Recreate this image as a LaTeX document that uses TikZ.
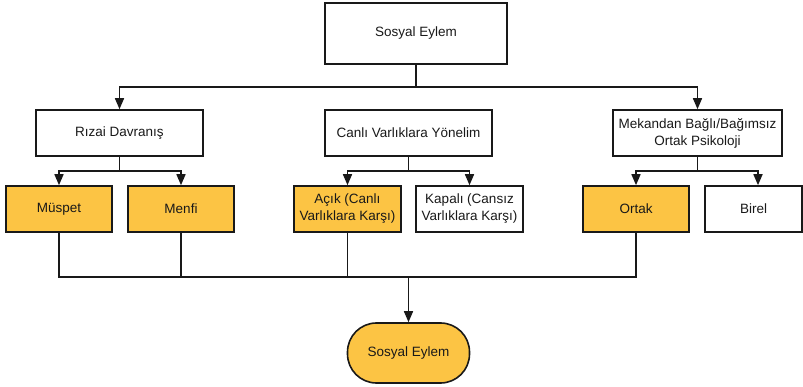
\documentclass[tikz,border=0pt]{standalone}
\usepackage{fontspec}
\setmainfont{Liberation Sans}
\usetikzlibrary{arrows.meta,calc}
\definecolor{boxfill}{RGB}{252,196,68}
\definecolor{ink}{RGB}{25,25,25}
\begin{document}
\begin{tikzpicture}[x=1pt,y=-1pt,
  every node/.style={font=\fontsize{13.5}{17}\selectfont, text=ink, align=center},
  box/.style={draw=ink, line width=1.6pt, rectangle, minimum height=46pt, inner sep=0pt},
  yel/.style={box, fill=boxfill},
  wht/.style={box, fill=white},
  link/.style={draw=ink, line width=1.6pt},
  arr/.style={link, -{Triangle[length=11pt,width=9pt]}}]
\useasboundingbox (0,0) rectangle (803,387);
% nodes
\node[wht, minimum width=182pt, minimum height=61pt] (top) at (416,33.5) {Sosyal Eylem};
\node[wht, minimum width=167pt] (rizai) at (119.5,133) {Rızai Davranış};
\node[wht, minimum width=167pt] (canli) at (408.5,133) {Canlı Varlıklara Yönelim};
\node[wht, minimum width=169pt] (mekan) at (697.5,133) {Mekandan Bağlı/Bağımsız\\Ortak Psikoloji};
\node[yel, minimum width=106pt] (muspet) at (59,209) {Müspet};
\node[yel, minimum width=106pt] (menfi) at (181,209) {Menfi};
\node[yel, minimum width=107pt] (acik) at (347.5,209) {Açık (Canlı\\Varlıklara Karşı)};
\node[wht, minimum width=107pt] (kapali) at (469.5,209) {Kapalı (Cansız\\Varlıklara Karşı)};
\node[yel, minimum width=106pt] (ortak) at (636,209) {Ortak};
\node[wht, minimum width=97pt] (birel) at (753.5,209) {Birel};
\node[yel, minimum width=122pt, minimum height=60pt, rounded corners=29pt] (final) at (408.5,353) {Sosyal Eylem};
% junctions
\coordinate (j1) at (416,87);
\coordinate (j2) at (119.5,171);
\coordinate (j3) at (408.5,171);
\coordinate (j4) at (697.5,171);
\coordinate (j5) at (408.5,277);
\coordinate (birelin) at ($(birel.north)+(4.5,0)$);
% connectors
\draw[link] (top.south) -- (j1);
\draw[arr] (j1) -| (rizai.north);
\draw[arr] (j1) -| (mekan.north);
\draw[link] (rizai.south) -- (j2);
\draw[arr] (j2) -| (muspet.north);
\draw[arr] (j2) -| (menfi.north);
\draw[link] (canli.south) -- (j3);
\draw[arr] (j3) -| (acik.north);
\draw[arr] (j3) -| (kapali.north);
\draw[link] (mekan.south) -- (j4);
\draw[arr] (j4) -| (ortak.north);
\draw[arr] (j4) -| (birelin);
\draw[link] (muspet.south) |- (ortak.south |- j5) -- (ortak.south);
\draw[link] (menfi.south) -- (menfi.south |- j5);
\draw[link] (acik.south) -- (acik.south |- j5);
\draw[arr] (j5) -- (final.north);
\end{tikzpicture}
\end{document}
